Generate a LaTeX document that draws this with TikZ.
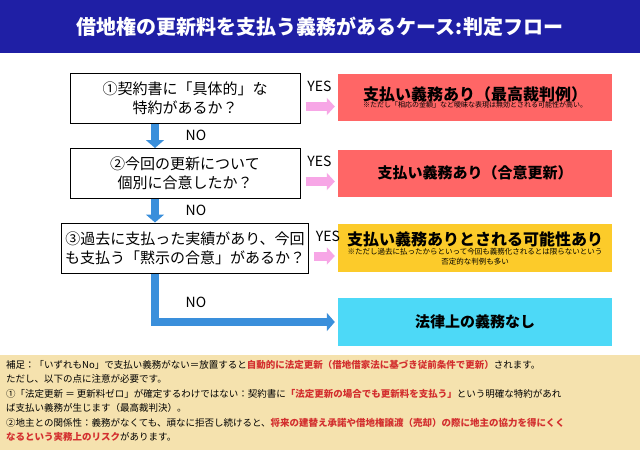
\documentclass[tikz,border=0pt]{standalone}
\usepackage{fontspec}
\setmainfont{Noto Sans CJK JP}
\usetikzlibrary{arrows.meta}
\definecolor{navy}{HTML}{1F1FA5}
\definecolor{redbox}{HTML}{FF6666}
\definecolor{yel}{HTML}{FCCB2A}
\definecolor{cyanbox}{HTML}{4DD9F7}
\definecolor{pinkar}{HTML}{F7A6E6}
\definecolor{bluear}{HTML}{3A8FDB}
\definecolor{panel}{HTML}{F5E2AE}
\definecolor{redtx}{HTML}{D32F2F}
\begin{document}
\begin{tikzpicture}[x=1pt,y=-1pt,
 qbox/.style={draw=black,line width=1pt,fill=white,minimum width=230pt,minimum height=50pt,align=center,font=\fontsize{15}{19}\selectfont},
 abox/.style={minimum width=274pt,minimum height=47pt,align=center},
 lbl/.style={font=\fontsize{14}{16}\selectfont},
 parr/.style={pinkar,line width=9pt,-{Triangle[length=8pt,width=17pt]}},
 barr/.style={bluear,line width=8pt,-{Triangle[length=8pt,width=18pt]}}]
\useasboundingbox (0,0) rectangle (640,450);
\fill[white] (0,0) rectangle (640,450);
\fill[navy] (0,0) rectangle (640,53);
\node[text=white,font=\fontsize{20}{22}\selectfont\bfseries] (title) at (320,27) {借地権の更新料を支払う義務があるケース:判定フロー};
\node[qbox] (q1) at (185,98.5) {①契約書に「具体的」な\\特約があるか？};
\node[qbox] (q2) at (185,173.5) {②今回の更新について\\個別に合意したか？};
\node[qbox] (q3) at (185,248) {③過去に支払った実績があり、今回\\も支払う「黙示の合意」があるか？};
\node[abox,fill=redbox,font=\fontsize{7}{8}\selectfont] (a1) at (475,97) {{\fontsize{16}{18}\selectfont\bfseries 支払い義務あり（最高裁判例）}\\[-1pt]※ただし「相応の金額」など曖昧な表現は無効とされる可能性が高い。};
\node[abox,fill=redbox] (a2) at (475,173) {\fontsize{15}{18}\selectfont\bfseries 支払い義務あり（合意更新）};
\node[abox,fill=yel,minimum height=48pt,font=\fontsize{7.5}{10}\selectfont] (a3) at (475,248) {{\fontsize{16}{19}\selectfont\bfseries 支払い義務ありとされる可能性あり}\\[-1pt]※ただし過去に払ったからといって今回も義務化されるとは限らないという\\否定的な判例も多い};
\node[abox,fill=cyanbox,minimum height=48pt] (a4) at (475,322) {\fontsize{15}{18}\selectfont\bfseries 法律上の義務なし};
\foreach \i in {1,2,3}{
 \draw[parr] ([xshift=5pt,yshift=-8pt]q\i.east) -- ([xshift=-3pt,yshift=-8pt]q\i.east -| a\i.west);
 \node[lbl] at ([xshift=19pt,yshift=12pt]q\i.east) {YES};
}
\draw[barr] ([xshift=-30pt]q1.south) -- ([xshift=-30pt]q2.north);
\draw[barr] ([xshift=-30pt]q2.south) -- ([xshift=-30pt]q3.north);
\coordinate (bend) at (155,322);
\draw[bluear,line width=8pt] ([xshift=-30pt]q3.south) -- ([yshift=4pt]bend);
\draw[barr] ([xshift=-4pt]bend) -- ([xshift=-3pt]a4.west);
\node[lbl] at (196,135) {NO};
\node[lbl] at (196,210) {NO};
\node[lbl] at (196,302) {NO};
\fill[panel] (0,355) rectangle (640,450);
\node[anchor=north west,align=left,font=\fontsize{9.5}{14.5}\selectfont,inner sep=0pt] (note) at (6,360) {%
補足：「いずれもNo」で支払い義務がない＝放置すると\textcolor{redtx}{\bfseries 自動的に法定更新（借地借家法に基づき従前条件で更新）}されます。\\
ただし、以下の点に注意が必要です。\\
①「法定更新 ＝ 更新料ゼロ」が確定するわけではない：契約書に\textcolor{redtx}{\bfseries「法定更新の場合でも更新料を支払う」}という明確な特約があれ\\
ば支払い義務が生じます（最高裁判決）。\\
②地主との関係性：義務がなくても、頑なに拒否し続けると、\textcolor{redtx}{\bfseries 将来の建替え承諾や借地権譲渡（売却）の際に地主の協力を得にくく}\\
\textcolor{redtx}{\bfseries なるという実務上のリスク}があります。};
\end{tikzpicture}
\end{document}
